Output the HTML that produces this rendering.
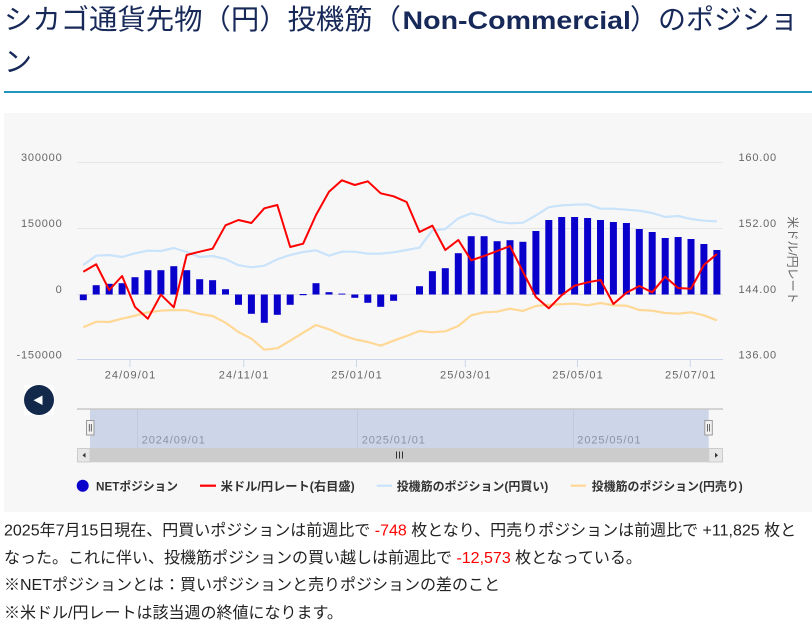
<!DOCTYPE html>
<html><head><meta charset="utf-8"><style>
html,body{margin:0;padding:0;background:#fff;width:812px;height:628px;overflow:hidden}
svg{display:block}
text{font-family:"Liberation Sans","Noto Sans CJK JP",sans-serif}
</style></head><body>
<svg width="812" height="628" viewBox="0 0 812 628" xmlns="http://www.w3.org/2000/svg">
<!-- Title -->
<text x="4" y="29" font-size="28" fill="#172959" textLength="397" lengthAdjust="spacingAndGlyphs">シカゴ通貨先物（円）投機筋（</text>
<text x="402.5" y="29" font-size="25" font-weight="bold" fill="#172959" textLength="228.5" lengthAdjust="spacingAndGlyphs">Non-Commercial</text>
<text x="630" y="29" font-size="28" fill="#172959">）のポジショ</text>
<text x="4" y="71.6" font-size="28" fill="#172959">ン</text>
<rect x="4" y="91" width="808" height="2" fill="#1e96be"/>

<!-- chart box -->
<rect x="4" y="113" width="808" height="399" fill="#f7f7f7"/>

<!-- grid -->
<g stroke="#e6e6e6" stroke-width="1">
<line x1="77" y1="162.5" x2="723" y2="162.5"/>
<line x1="77" y1="228.5" x2="723" y2="228.5"/>
<line x1="77" y1="294.5" x2="723" y2="294.5"/>
</g>
<line x1="77" y1="359.5" x2="723" y2="359.5" stroke="#ccd6eb" stroke-width="1"/>
<g stroke="#ccd6eb" stroke-width="1">
<line x1="130" y1="359.5" x2="130" y2="367"/>
<line x1="243.7" y1="359.5" x2="243.7" y2="367"/>
<line x1="356.5" y1="359.5" x2="356.5" y2="367"/>
<line x1="465.3" y1="359.5" x2="465.3" y2="367"/>
<line x1="577.5" y1="359.5" x2="577.5" y2="367"/>
<line x1="690.3" y1="359.5" x2="690.3" y2="367"/>
</g>

<!-- left axis labels -->
<g font-size="11" fill="#666" text-anchor="end" letter-spacing="0.8">
<text x="62.5" y="160.8">300000</text>
<text x="62.5" y="226.8">150000</text>
<text x="62.5" y="292.8">0</text>
<text x="62.5" y="358.3">-150000</text>
</g>
<!-- right axis labels -->
<g font-size="11" fill="#666" letter-spacing="0.8">
<text x="738.5" y="160.8">160.00</text>
<text x="738.5" y="226.8">152.00</text>
<text x="738.5" y="292.8">144.00</text>
<text x="738.5" y="358.3">136.00</text>
</g>
<text transform="translate(788.4,260) rotate(90)" font-size="12" fill="#666" text-anchor="middle">米ドル/円レート</text>

<!-- x labels -->
<g font-size="11" fill="#666" text-anchor="middle" letter-spacing="1.1">
<text x="130.5" y="378.3">24/09/01</text>
<text x="244.2" y="378.3">24/11/01</text>
<text x="357" y="378.3">25/01/01</text>
<text x="465.8" y="378.3">25/03/01</text>
<text x="578" y="378.3">25/05/01</text>
<text x="690.8" y="378.3">25/07/01</text>
</g>

<!-- bars -->
<g fill="#0a00cc">
<rect x="79.8" y="294.5" width="7" height="5.7"/>
<rect x="92.7" y="285.2" width="7" height="9.3"/>
<rect x="105.7" y="283.8" width="7" height="10.7"/>
<rect x="118.6" y="283.2" width="7" height="11.3"/>
<rect x="131.5" y="277.2" width="7" height="17.3"/>
<rect x="144.4" y="270.2" width="7" height="24.3"/>
<rect x="157.4" y="270.2" width="7" height="24.3"/>
<rect x="170.3" y="266.2" width="7" height="28.3"/>
<rect x="183.2" y="270.2" width="7" height="24.3"/>
<rect x="196.2" y="279.2" width="7" height="15.3"/>
<rect x="209.1" y="280.2" width="7" height="14.3"/>
<rect x="222.0" y="289.2" width="7" height="5.3"/>
<rect x="235.0" y="294.5" width="7" height="10.3"/>
<rect x="247.9" y="294.5" width="7" height="19.3"/>
<rect x="260.8" y="294.5" width="7" height="28.3"/>
<rect x="273.8" y="294.5" width="7" height="20.3"/>
<rect x="286.7" y="294.5" width="7" height="10.3"/>
<rect x="299.6" y="294" width="7" height="1.2"/>
<rect x="312.5" y="283.2" width="7" height="11.3"/>
<rect x="325.5" y="292.2" width="7" height="2.3"/>
<rect x="338.4" y="293.6" width="7" height="0.9"/>
<rect x="351.3" y="294.5" width="7" height="3.3"/>
<rect x="364.3" y="294.5" width="7" height="8.3"/>
<rect x="377.2" y="294.5" width="7" height="12.3"/>
<rect x="390.1" y="294.5" width="7" height="6.3"/>
<rect x="416.0" y="286.2" width="7" height="8.3"/>
<rect x="428.9" y="271.2" width="7" height="23.3"/>
<rect x="441.8" y="268.2" width="7" height="26.3"/>
<rect x="454.8" y="253.2" width="7" height="41.3"/>
<rect x="467.7" y="236.2" width="7" height="58.3"/>
<rect x="480.6" y="236.2" width="7" height="58.3"/>
<rect x="493.6" y="241.2" width="7" height="53.3"/>
<rect x="506.5" y="240.2" width="7" height="54.3"/>
<rect x="519.4" y="241.8" width="7" height="52.7"/>
<rect x="532.4" y="231" width="7" height="63.5"/>
<rect x="545.3" y="220" width="7" height="74.5"/>
<rect x="558.2" y="217" width="7" height="77.5"/>
<rect x="571.1" y="217" width="7" height="77.5"/>
<rect x="584.1" y="218" width="7" height="76.5"/>
<rect x="597.0" y="220" width="7" height="74.5"/>
<rect x="609.9" y="222" width="7" height="72.5"/>
<rect x="622.9" y="223" width="7" height="71.5"/>
<rect x="635.8" y="229" width="7" height="65.5"/>
<rect x="648.7" y="232" width="7" height="62.5"/>
<rect x="661.7" y="238" width="7" height="56.5"/>
<rect x="674.6" y="237" width="7" height="57.5"/>
<rect x="687.5" y="239" width="7" height="55.5"/>
<rect x="700.4" y="244" width="7" height="50.5"/>
<rect x="713.4" y="250" width="7" height="44.5"/>
</g>

<!-- light blue: long -->
<polyline fill="none" stroke="#c9e3fb" stroke-width="2.2" stroke-linejoin="round" points="83.3,265 96.2,255.7 109.2,255 122.1,257 135,253.3 147.9,250.7 160.9,251 173.8,248 186.7,252 199.7,257 212.6,256 225.5,259 238.5,265.2 251.4,267.3 264.3,265.7 277.3,259.3 290.2,255 303.1,252 316,250.3 329,255.7 341.9,251.7 354.8,251.7 367.8,253.7 380.7,253.7 393.6,252.3 406.6,250 419.5,247.7 432.4,230.3 445.3,229 458.3,218.3 471.2,213.3 484.1,216.3 497.1,221.7 510,223.3 522.9,222.7 535.9,215.5 548.8,207.2 561.7,205.4 574.6,204.7 587.6,204.3 600.5,208.7 613.4,208.7 626.4,209.7 639.3,210.7 652.2,213 665.2,217 678.1,216 691,219 703.9,220.7 716.9,221.3"/>

<!-- orange: short -->
<polyline fill="none" stroke="#ffd896" stroke-width="2.2" stroke-linejoin="round" points="83.3,327.3 96.2,321.7 109.2,322 122.1,318.7 135,315.7 147.9,312.3 160.9,310.7 173.8,310 186.7,310.3 199.7,314 212.6,316 225.5,322.7 238.5,332 251.4,338.7 264.3,349.7 277.3,348.3 290.2,340.7 303.1,332.7 316,325 329,329.3 341.9,335 354.8,339.3 367.8,342 380.7,345.7 393.6,340.7 406.6,336 419.5,331 432.4,332.3 445.3,331.3 458.3,326 471.2,315.3 484.1,312.3 497.1,311.7 510,308.7 522.9,311 535.9,306 548.8,304.7 561.7,304.2 574.6,303.7 587.6,305.3 600.5,303 613.4,305.3 626.4,305.7 639.3,310 652.2,310.7 665.2,313 678.1,313.7 691,312.3 703.9,315.3 716.9,320.3"/>

<!-- red: USD/JPY -->
<polyline fill="none" stroke="#f00" stroke-width="2" stroke-linejoin="round" points="83.3,271.7 96.2,264.3 109.2,290 122.1,276 135,307 147.9,318.7 160.9,294.7 173.8,307.3 186.7,255 199.7,251.7 212.6,248.7 225.5,225.3 238.5,220 251.4,223 264.3,208.3 277.3,205 290.2,247 303.1,243.7 316,215 329,191.7 341.9,180.3 354.8,185 367.8,181.3 380.7,193.3 393.6,196.3 406.6,202 419.5,232 432.4,225.7 445.3,250 458.3,240 471.2,260.3 484.1,256 497.1,251 510,246 522.9,271.7 535.9,297 548.8,308.3 561.7,295.2 574.6,285.7 587.6,282.3 600.5,280 613.4,304 626.4,292.7 639.3,286 652.2,292.3 665.2,276.7 678.1,288 691,288.7 703.9,265 716.9,254"/>

<!-- back button -->
<rect x="24" y="385" width="30" height="30" fill="#fff"/>
<circle cx="39" cy="400" r="15" fill="#13294b"/>
<polygon points="33.5,400.3 42.5,395.5 42.5,405" fill="#fff"/>

<!-- navigator -->
<rect x="90" y="409" width="618.7" height="39" fill="#cdd5e8"/>
<g stroke="#c2cadd" stroke-width="1">
<line x1="137.5" y1="409" x2="137.5" y2="448"/>
<line x1="357.5" y1="409" x2="357.5" y2="448"/>
<line x1="573.5" y1="409" x2="573.5" y2="448"/>
</g>
<line x1="77" y1="409" x2="723" y2="409" stroke="#c8c8c8" stroke-width="1.5"/>
<g font-size="11" fill="#8d93a6" letter-spacing="0.9">
<text x="141.7" y="443.5">2024/09/01</text>
<text x="361.7" y="443.5">2025/01/01</text>
<text x="577.3" y="443.5">2025/05/01</text>
</g>
<!-- handles -->
<rect x="86.5" y="420.5" width="7.5" height="14.5" fill="#f2f2f2" stroke="#999" stroke-width="1"/>
<line x1="89.3" y1="424" x2="89.3" y2="431.5" stroke="#444" stroke-width="0.8"/>
<line x1="91.3" y1="424" x2="91.3" y2="431.5" stroke="#444" stroke-width="0.8"/>
<rect x="704.8" y="420.5" width="7.5" height="14.5" fill="#f2f2f2" stroke="#999" stroke-width="1"/>
<line x1="707.6" y1="424" x2="707.6" y2="431.5" stroke="#444" stroke-width="0.8"/>
<line x1="709.6" y1="424" x2="709.6" y2="431.5" stroke="#444" stroke-width="0.8"/>
<!-- scrollbar -->
<rect x="77" y="448" width="646" height="14.3" fill="#cccccc"/>
<rect x="77.5" y="448.5" width="12.5" height="13.5" fill="#e6e6e6" stroke="#cccccc" stroke-width="1"/>
<polygon points="82.5,455.3 85.5,452.8 85.5,457.8" fill="#333"/>
<rect x="708.7" y="448.5" width="13.8" height="13.5" fill="#e6e6e6" stroke="#cccccc" stroke-width="1"/>
<polygon points="718,455.3 715,452.8 715,457.8" fill="#333"/>
<g stroke="#333" stroke-width="1">
<line x1="396.5" y1="451.5" x2="396.5" y2="458.5"/>
<line x1="399.5" y1="451.5" x2="399.5" y2="458.5"/>
<line x1="402.5" y1="451.5" x2="402.5" y2="458.5"/>
</g>

<!-- legend -->
<circle cx="82.7" cy="485.7" r="6" fill="#0a00cc"/>
<g font-size="12" font-weight="bold" fill="#333">
<text x="96" y="490.3" textLength="82" lengthAdjust="spacingAndGlyphs">NETポジション</text>
<text x="220.7" y="490.3" textLength="134" lengthAdjust="spacingAndGlyphs">米ドル/円レート(右目盛)</text>
<text x="396.7" y="490.3" textLength="151.6" lengthAdjust="spacingAndGlyphs">投機筋のポジション(円買い)</text>
<text x="591.7" y="490.3" textLength="151" lengthAdjust="spacingAndGlyphs">投機筋のポジション(円売り)</text>
</g>
<line x1="200" y1="485.7" x2="216" y2="485.7" stroke="#f00" stroke-width="2.2"/>
<line x1="376.7" y1="485.7" x2="392" y2="485.7" stroke="#c9e3fb" stroke-width="2.2"/>
<line x1="570.7" y1="485.7" x2="586" y2="485.7" stroke="#ffd896" stroke-width="2.2"/>

<!-- bottom text -->
<g font-size="16" fill="#222">
<text x="4" y="535.7">2025年7月15日現在、円買いポジションは前週比で <tspan fill="#f00">-748</tspan> 枚となり、円売りポジションは前週比で +11,825 枚と</text>
<text x="4" y="563">なった。これに伴い、投機筋ポジションの買い越しは前週比で <tspan fill="#f00">-12,573</tspan> 枚となっている。</text>
<text x="4" y="590">※NETポジションとは：買いポジションと売りポジションの差のこと</text>
<text x="4" y="618">※米ドル/円レートは該当週の終値になります。</text>
</g>
</svg>
</body></html>
